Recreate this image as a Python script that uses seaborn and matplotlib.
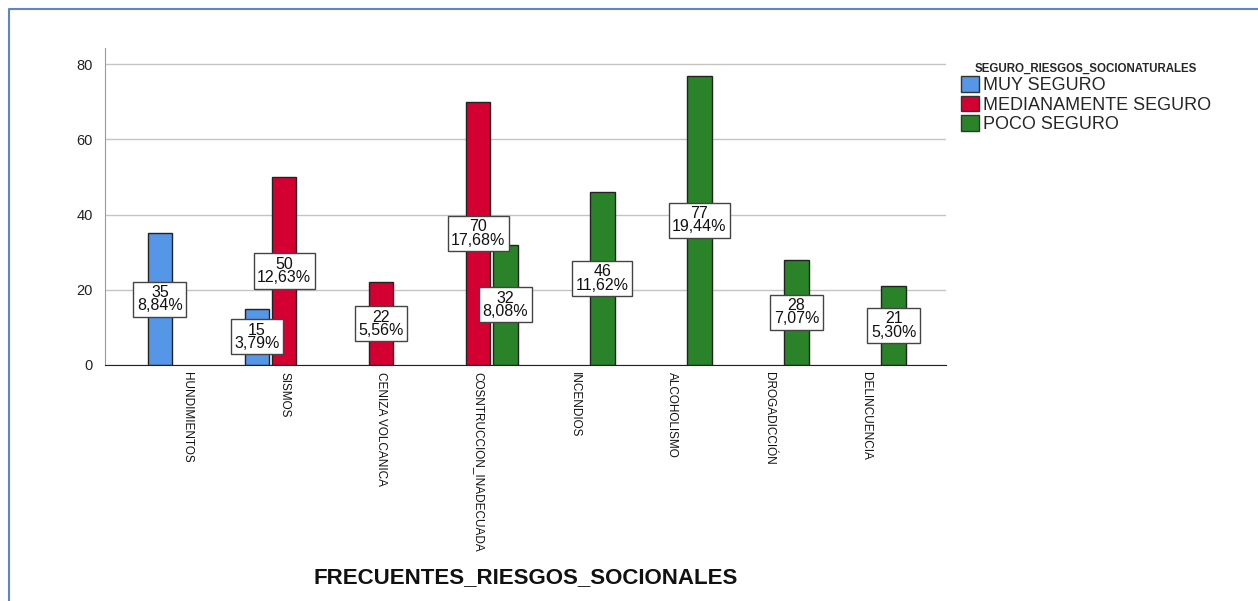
import numpy as np
import pandas as pd
import seaborn as sns
import matplotlib.pyplot as plt
from matplotlib.lines import Line2D

# Data
categories = ['HUNDIMIENTOS', 'SISMOS', 'CENIZA VOLCANICA', 'COSNTRUCCION_INADECUADA',
              'INCENDIOS', 'ALCOHOLISMO', 'DROGADICCIÓN', 'DELINCUENCIA']
groups = ['MUY SEGURO', 'MEDIANAMENTE SEGURO', 'POCO SEGURO']

bar_cat = ['HUNDIMIENTOS', 'SISMOS', 'SISMOS', 'CENIZA VOLCANICA',
           'COSNTRUCCION_INADECUADA', 'COSNTRUCCION_INADECUADA',
           'INCENDIOS', 'ALCOHOLISMO', 'DROGADICCIÓN', 'DELINCUENCIA']
bar_group = ['MUY SEGURO', 'MUY SEGURO', 'MEDIANAMENTE SEGURO', 'MEDIANAMENTE SEGURO',
             'MEDIANAMENTE SEGURO', 'POCO SEGURO',
             'POCO SEGURO', 'POCO SEGURO', 'POCO SEGURO', 'POCO SEGURO']
counts = [35, 15, 50, 22, 70, 32, 46, 77, 28, 21]
pcts = ['8,84%', '3,79%', '12,63%', '5,56%', '17,68%', '8,08%',
        '11,62%', '19,44%', '7,07%', '5,30%']

colours = ['#5596E6', '#D50032', '#2A8229']

df = pd.DataFrame({'cat': bar_cat, 'grp': bar_group, 'n': counts, 'pct': pcts})

sns.set_style("white")
plt.rcParams['font.family'] = ['Liberation Sans', 'DejaVu Sans']

fig = plt.figure(figsize=(12.58, 6.01), dpi=100)
ax = fig.add_axes([0.0835, 0.3927, 0.6685, 0.5273])

sns.barplot(data=df, x='cat', y='n', hue='grp', order=categories, hue_order=groups,
            palette=colours, width=0.84, gap=0.1, dodge=True,
            edgecolor='#222222', linewidth=1, saturation=1, errorbar=None, ax=ax)

# value boxes at mid-height of each bar
lookup = {(r.cat, r.grp): r for r in df.itertuples()}
for grp, cont in zip(groups, ax.containers):
    for bar in cont:
        h = bar.get_height()
        if not h or np.isnan(h):
            continue
        xc = bar.get_x() + bar.get_width() / 2
        cat = categories[int(round(xc))]
        row = lookup.get((cat, grp))
        if row is None:
            continue
        ax.text(xc, h / 2, f'{row.n}\n{row.pct}', ha='center', va='center',
                fontsize=11.5, linespacing=0.85, color='#111111',
                bbox=dict(boxstyle='square,pad=0.22', fc='white', ec='#444444', lw=1))

ax.set_xlim(-0.845, 7.82)
ax.set_ylim(0, 84.3)
ax.set_yticks([0, 20, 40, 60, 80])
ax.yaxis.grid(True, color='#c4c4c4', lw=1)
ax.set_axisbelow(True)
for s in ['top', 'right']:
    ax.spines[s].set_visible(False)
ax.spines['left'].set_color('#999999')
ax.spines['bottom'].set_color('#222222')
ax.tick_params(axis='y', length=0, labelsize=10.5, pad=9, labelcolor='#222222')
ax.tick_params(axis='x', length=0, pad=5)
ax.set_xticks(range(len(categories)))
ax.set_xticklabels(categories, rotation=-90, va='top', ha='center', fontsize=8.5,
                   color='#111111')
ax.set_ylabel('')
ax.set_xlabel('FRECUENTES_RIESGOS_SOCIONALES', fontsize=16, fontweight='bold',
              color='#111111')
ax.xaxis.set_label_coords(0.5, -0.672)
ax.xaxis.label.set_va('center')

leg = ax.legend(title='SEGURO_RIESGOS_SOCIONATURALES', loc='upper left',
                bbox_to_anchor=(948 / 1258, 1 - 50 / 601), bbox_transform=fig.transFigure,
                frameon=False, fontsize=13, title_fontsize=8.3, handlelength=1.0,
                handleheight=0.95, handletextpad=0.25, labelspacing=0.08,
                borderpad=0.2, alignment='center')
leg.get_title().set_fontweight('bold')
for hnd in leg.legend_handles:
    hnd.set_edgecolor('#333333')

# blue border of the original screenshot
fig.add_artist(Line2D([9 / 1258, 9 / 1258, 1], [0, 1 - 9 / 601, 1 - 9 / 601],
                      transform=fig.transFigure, color='#5B86C5', lw=1.5))

fig.savefig('out.png', dpi=100)
